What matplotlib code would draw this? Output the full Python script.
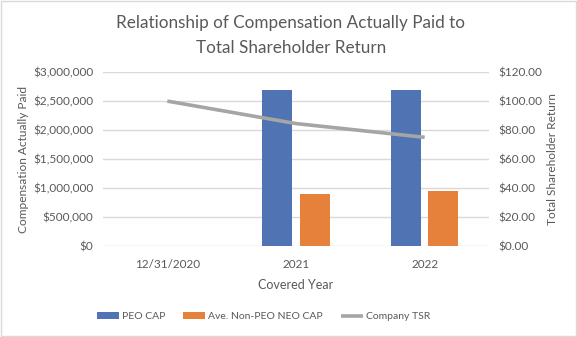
import matplotlib
matplotlib.use("Agg")
import matplotlib.pyplot as plt
import numpy as np
from matplotlib.ticker import FuncFormatter
from matplotlib.patches import Rectangle

categories = ["12/31/2020", "2021", "2022"]
peo_cap = [0, 2690000, 2700000]
neo_cap = [0, 900000, 950000]
tsr = [100.0, 84.5, 75.0]

left_ticks = [0, 500000, 1000000, 1500000, 2000000, 2500000, 3000000]
right_ticks = [0, 20, 40, 60, 80, 100, 120]

plt.rcParams['font.family'] = ['Lato', 'DejaVu Sans']
txt = "#595959"
blue = "#4F73B3"
orange = "#E6813C"
grey = "#A5A5A5"

fig = plt.figure(figsize=(5.77, 3.37), dpi=100)
fig.patches.append(Rectangle((0.0015, 0.0025), 0.997, 0.995, transform=fig.transFigure,
                             fill=False, edgecolor="#D9D9D9", linewidth=1))
ax = fig.add_axes([0.1785, 0.270, 0.669, 0.516])
ax2 = ax.twinx()

x = np.arange(len(categories))
w = 0.235
off = 0.145
ax.bar(x - off, peo_cap, w, color=blue, label="PEO CAP", zorder=3)
ax.bar(x + off, neo_cap, w, color=orange, label="Ave. Non-PEO NEO CAP", zorder=3)
ax2.plot(x, tsr, color=grey, linewidth=2.6, label="Company TSR", solid_capstyle="butt")

ax.set_xlim(-0.5, 2.5)
ax.set_ylim(0, 3000000)
ax.set_yticks(left_ticks)
ax.yaxis.set_major_formatter(FuncFormatter(lambda v, p: "${:,.0f}".format(v)))
ax2.set_ylim(0, 120)
ax2.set_yticks(right_ticks)
ax2.yaxis.set_major_formatter(FuncFormatter(lambda v, p: "${:,.2f}".format(v)))

ax.set_xticks(x)
ax.set_xticklabels(categories)
ax.grid(axis="y", color="#D9D9D9", linewidth=1, zorder=0)
ax.set_axisbelow(True)
for a in (ax, ax2):
    for s in a.spines.values():
        s.set_visible(False)
    a.tick_params(length=0, labelsize=8.5, colors=txt, pad=7)
ax.tick_params(axis="x", pad=9)

ax.set_xlabel("Covered Year", fontsize=9, color=txt, labelpad=7)
ax.set_ylabel("Compensation Actually Paid", fontsize=8.6, color=txt, labelpad=3)
ax2.set_ylabel("Total Shareholder Return", fontsize=8.6, color=txt, labelpad=3)

fig.text(0.504, 1 - 23 / 337, "Relationship of Compensation Actually Paid to",
         ha="center", va="center", fontsize=12.3, color=txt)
fig.text(0.504, 1 - 48 / 337, "Total Shareholder Return",
         ha="center", va="center", fontsize=12.3, color=txt)

h1, l1 = ax.get_legend_handles_labels()
h2, l2 = ax2.get_legend_handles_labels()
fig.legend(h1 + h2, l1 + l2, loc="center", bbox_to_anchor=(0.457, 0.06), ncol=3,
           frameon=False, fontsize=7.5, labelcolor=txt, handlelength=2.1, handleheight=0.6,
           columnspacing=1.7, handletextpad=0.3)

fig.savefig("out.png", dpi=100)
